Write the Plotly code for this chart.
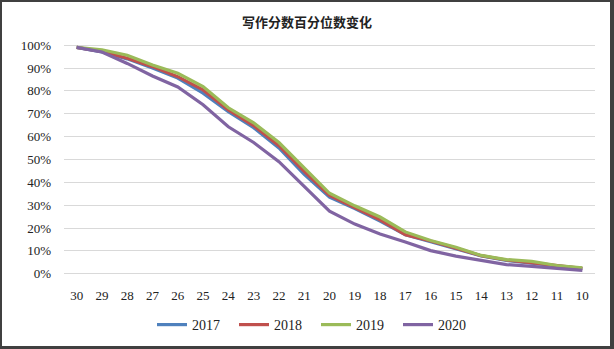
import plotly.graph_objects as go

categories = ["30", "29", "28", "27", "26", "25", "24", "23", "22", "21", "20",
              "19", "18", "17", "16", "15", "14", "13", "12", "11", "10"]
s2017 = [0.99, 0.97, 0.94, 0.90, 0.856, 0.79, 0.709, 0.639, 0.55, 0.435, 0.335,
         0.285, 0.23, 0.17, 0.14, 0.11, 0.078, 0.058, 0.047, 0.033, 0.022]
s2018 = [0.99, 0.972, 0.943, 0.906, 0.862, 0.804, 0.717, 0.648, 0.56, 0.448, 0.343,
         0.29, 0.236, 0.17, 0.143, 0.112, 0.079, 0.06, 0.048, 0.034, 0.023]
s2019 = [0.99, 0.98, 0.956, 0.913, 0.877, 0.819, 0.726, 0.66, 0.574, 0.465, 0.352,
         0.297, 0.248, 0.183, 0.145, 0.116, 0.08, 0.062, 0.054, 0.036, 0.026]
s2020 = [0.99, 0.97, 0.92, 0.865, 0.817, 0.739, 0.643, 0.574, 0.49, 0.383, 0.274,
         0.217, 0.174, 0.139, 0.101, 0.077, 0.058, 0.04, 0.032, 0.025, 0.015]
series = [("2017", s2017, "#4F81BD"), ("2018", s2018, "#C0504D"),
          ("2019", s2019, "#9BBB59"), ("2020", s2020, "#8064A2")]
title_text = "写作分数百分位数变化"

W, H = 614, 349
L, R, T, B = 64, 19, 36, 73
pw, ph = W - L - R, H - T - B

fig = go.Figure()
for name, vals, col in series:
    fig.add_trace(go.Scatter(x=categories, y=vals, name=name, mode="lines",
                             line=dict(color=col, width=3.2)))

def px_x(p):
    return (p - L) / pw

def px_y(p):
    return (H - B - p) / ph

shapes = [
    dict(type="rect", xref="paper", yref="paper", x0=px_x(1), x1=px_x(611),
         y0=px_y(347), y1=px_y(1), line=dict(color="#404040", width=2)),
    dict(type="line", xref="paper", yref="paper", x0=px_x(612.5), x1=px_x(612.5),
         y0=px_y(348), y1=px_y(0), line=dict(color="#404040", width=3)),
    dict(type="line", xref="paper", yref="paper", x0=px_x(0), x1=px_x(614),
         y0=px_y(348), y1=px_y(348), line=dict(color="#404040", width=2)),
]

fig.update_layout(
    width=W, height=H,
    margin=dict(l=L, r=R, t=T, b=B, autoexpand=False),
    paper_bgcolor="white", plot_bgcolor="white",
    title=dict(text="<b>" + title_text + "</b>", x=px_x(307), xref="paper", xanchor="center",
               y=1 - 22 / H, yanchor="middle",
               font=dict(family="Noto Sans CJK SC", size=13, color="#222222")),
    font=dict(family="Liberation Serif", size=13, color="#222222"),
    xaxis=dict(type="category", range=[-0.5, 20.5], showgrid=False, showline=False,
               ticks="", ticklabelstandoff=10, tickfont=dict(size=13)),
    yaxis=dict(range=[-0.01, 1.04], tickvals=[i / 10 for i in range(11)],
               ticktext=[f"{i * 10}%" for i in range(11)],
               showgrid=True, gridcolor="#D9D9D9", gridwidth=1.2, zeroline=False,
               showline=False, ticks="", ticklabelstandoff=12, tickfont=dict(size=13)),
    legend=dict(orientation="h", x=px_x(316), xanchor="center", y=px_y(325), yanchor="middle",
                font=dict(size=14), entrywidth=37, entrywidthmode="pixels",
                bgcolor="rgba(0,0,0,0)"),
    shapes=shapes,
    showlegend=True,
)

fig.write_html("out.html", config={"displayModeBar": False},
               post_script="document.body.style.margin='0';document.body.style.padding='0';")
